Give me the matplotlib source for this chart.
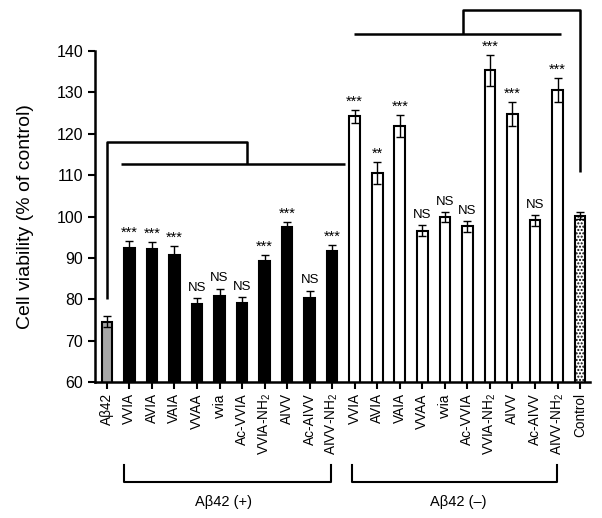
import matplotlib.pyplot as plt
import numpy as np

plt.rcParams['font.family'] = ['Liberation Sans', 'DejaVu Sans']
plt.rcParams['mathtext.fontset'] = 'custom'
plt.rcParams['mathtext.rm'] = 'Liberation Sans'
plt.rcParams['mathtext.it'] = 'Liberation Sans:italic'

peptides = ['VVIA', 'AVIA', 'VAIA', 'VVAA', 'vvia', 'Ac-VVIA', 'VVIA-NH$_2$',
            'AIVV', 'Ac-AIVV', 'AIVV-NH$_2$']
labels = ['A\u03b242'] + peptides + peptides + ['Control']

# with Abeta42
plus_vals = [74.6, 92.4, 92.2, 90.6, 78.9, 80.8, 79.0, 89.3, 97.4, 80.3, 91.6]
plus_err = [1.4, 1.7, 1.7, 2.2, 1.4, 1.8, 1.5, 1.3, 1.3, 1.8, 1.5]
plus_sig = ['', '***', '***', '***', 'NS', 'NS', 'NS', '***', '***', 'NS', '***']
# without Abeta42
minus_vals = [124.2, 110.5, 121.8, 96.6, 99.9, 97.6, 135.3, 124.7, 99.1, 130.6, 100.2]
minus_err = [1.6, 2.7, 2.7, 1.3, 1.2, 1.3, 3.8, 2.9, 1.3, 2.9, 0.8]
minus_sig = ['***', '**', '***', 'NS', 'NS', 'NS', '***', '***', 'NS', '***', '']

vals = plus_vals + minus_vals
errs = plus_err + minus_err
sig = plus_sig + minus_sig
x = np.arange(len(vals))

fig = plt.figure(figsize=(6.02, 5.18), dpi=100)
ax = fig.add_axes([0.158, 0.2625, 0.822, 0.639])

faces = ['#a6a6a6'] + ['black'] * 10 + ['white'] * 11
bars = ax.bar(x, vals, width=0.47, color=faces, edgecolor='black', linewidth=1.5, zorder=2)
bars[-1].set_hatch('.....')
ax.errorbar(x, vals, yerr=errs, fmt='none', ecolor='black', elinewidth=1.0,
            capsize=3, capthick=1.0, zorder=3)

for xi, v, e, s in zip(x, vals, errs, sig):
    if s:
        stars = s.startswith('*')
        ax.annotate(s, (xi, v + e), xytext=(0, 1 if stars else 3), textcoords='offset points',
                    ha='center', va='bottom', fontsize=10.5 if stars else 9.5)

ax.set_xlim(-0.52, 21.44)
ax.set_ylim(60, 140)
ax.set_yticks(np.arange(60, 141, 10))
ax.set_xticks(x)
ax.set_xticklabels(labels, rotation=90, fontsize=9.8)
ax.tick_params(axis='y', labelsize=11.5, width=1.5, length=5)
ax.tick_params(axis='x', width=1.5, length=5, pad=3)
for sp in ['top', 'right']:
    ax.spines[sp].set_visible(False)
for sp in ['left', 'bottom']:
    ax.spines[sp].set_linewidth(1.8)
ax.set_ylabel('Cell viability (% of control)', fontsize=14, labelpad=16)

lk = dict(color='black', lw=1.8, clip_on=False, solid_capstyle='butt')
# upper comparison brackets
ax.plot([0, 0, 6.21, 6.21], [80, 118, 118, 112.6], **lk)
ax.plot([0.62, 10.57], [112.6, 112.6], **lk)
ax.plot([10.97, 20.16], [144.0, 144.0], **lk)
ax.plot([15.79, 15.79, 21.0, 21.0], [144.0, 149.8, 149.8, 110.7], **lk)

# lower group brackets (axes-fraction y)
tr = ax.get_xaxis_transform()
lk2 = dict(color='black', lw=1.5, clip_on=False, transform=tr)
ax.plot([0.77, 0.77, 9.94, 9.94], [-0.25, -0.302, -0.302, -0.25], **lk2)
ax.plot([10.9, 10.9, 19.99, 19.99], [-0.25, -0.302, -0.302, -0.25], **lk2)
ax.text(5.16, -0.3625, 'A\u03b242 (+)', transform=tr, ha='center', va='center', fontsize=10.5)
ax.text(15.59, -0.3625, 'A\u03b242 (\u2013)', transform=tr, ha='center', va='center', fontsize=10.5)

fig.savefig('out.png', dpi=100)
